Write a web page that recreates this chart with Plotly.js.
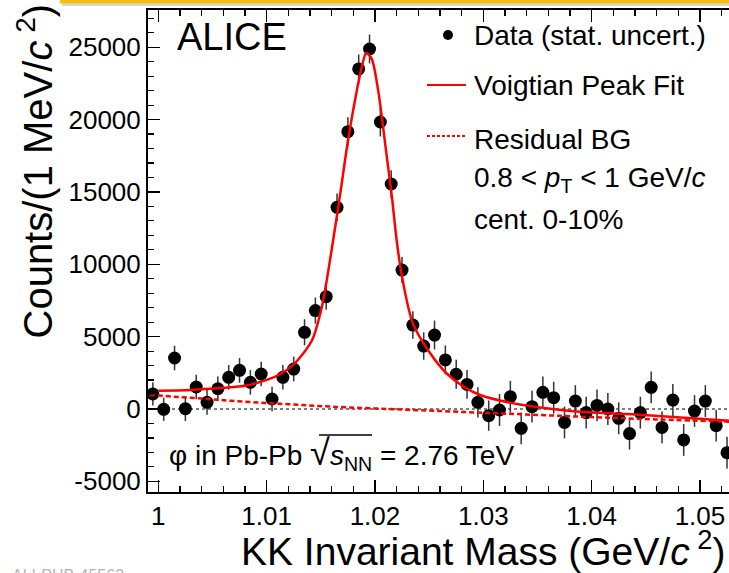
<!DOCTYPE html>
<html>
<head>
<meta charset="utf-8">
<script src="https://cdn.plot.ly/plotly-3.0.1.min.js"></script>
<style>
html,body{margin:0;padding:0;overflow:hidden;background:#fff;width:729px;height:573px;}
#chart{width:745px;height:573px;}
</style>
</head>
<body>
<div id="chart"></div>
<script>
// ---- data ----
const massBins = [0.9995,1.0005,1.0015,1.0025,1.0035,1.0045,1.0055,1.0065,1.0075,1.0085,1.0095,1.0105,1.0115,1.0125,1.0135,1.0145,1.0155,
  1.0165,1.0175,1.0185,1.0195,1.0205,1.0215,1.0225,1.0235,1.0245,1.0255,1.0265,1.0275,1.0285,1.0295,1.0305,1.0315,1.0325,1.0335,1.0345,
  1.0355,1.0365,1.0375,1.0385,1.0395,1.0405,1.0415,1.0425,1.0435,1.0445,1.0455,1.0465,1.0475,1.0485,1.0495,1.0505,1.0515,1.0525];
const counts = [1040,-20,3525,20,1520,460,1400,2190,2670,1840,2420,690,2190,2760,5300,6800,7760,
  13940,19165,23500,24880,19835,15550,9600,5800,4350,5110,3390,2400,1700,460,-460,-70,850,-1335,160,
  1150,780,-930,550,-250,250,0,-645,-1700,-250,1500,-1270,620,-2140,-140,550,-1150,-3020];
const statErr = [800,800,850,850,850,850,850,850,850,850,850,850,850,850,900,900,900,
  950,1000,1000,1000,1000,950,900,950,950,1000,1000,1000,1000,1050,1050,1100,1100,1100,1100,
  1100,1100,1100,1100,1100,1100,1100,1100,1100,1100,1100,1100,1100,1100,1100,1100,1100,1100];

const fitMass = [1.0000,1.0030,1.0060,1.0080,1.0095,1.0111,1.0126,1.0142,1.0151,1.0160,1.0168,1.0175,1.0183,1.0188,1.0192,1.0197,1.0203,1.0210,1.0216,1.0220,1.0225,1.0235,1.0251,1.0266,1.0282,1.0297,1.0328,1.0358,1.0389,1.0448,1.0535];
const fitCounts = [1265,1320,1470,1610,1890,2350,3160,4770,7070,10990,14900,18500,21900,23700,24600,24200,22000,18000,14440,11680,9140,5920,3850,2470,1540,970,390,50,-190,-415,-860];

const bgMass = [0.9992,1.004,1.008,1.012,1.016,1.022,1.028,1.034,1.040,1.046,1.0535];
const bgCounts = [970,720,500,330,160,-20,-200,-380,-560,-720,-900];

const xTickVals = [1,1.01,1.02,1.03,1.04,1.05];
const xTickText = ['1','1.01','1.02','1.03','1.04','1.05'];
const yTickVals = [-5000,0,5000,10000,15000,20000,25000];
const yTickText = ['-5000','0','5000','10000','15000','20000','25000'];

// ---- layout helpers (pixel -> paper) ----
const L = 148, W = 745, T = 10, B = 81, H = 573;
const PW = W - L, PH = H - T - B;
const px = p => (p - L) / PW;
const py = p => (H - B - p) / PH;
const FONT = 'Liberation Sans, Arial, Helvetica, sans-serif';

const traces = [
  {x: massBins, y: counts, type: 'scatter', mode: 'markers',
   marker: {color: 'black', size: 13},
   error_y: {type: 'data', array: statErr, visible: true, color: '#333', thickness: 1.5, width: 0},
   hoverinfo: 'x+y', showlegend: false},
  {x: fitMass, y: fitCounts, type: 'scatter', mode: 'lines',
   line: {color: '#ff0000', width: 2.5, shape: 'spline', smoothing: 0.8}, showlegend: false},
  {x: bgMass, y: bgCounts, type: 'scatter', mode: 'lines',
   line: {color: '#ff0000', width: 2.5, dash: '5px,3px', shape: 'spline'}, showlegend: false}
];

const ann = (text, xp, yp, size, opts) => Object.assign({
  text: text, x: px(xp), y: py(yp), xref: 'paper', yref: 'paper',
  xanchor: 'left', yanchor: 'middle', showarrow: false,
  font: {family: FONT, size: size, color: 'black'}
}, opts || {});

const layout = {
  width: W, height: H,
  margin: {l: L, r: 0, t: T, b: B, pad: 0},
  paper_bgcolor: 'white', plot_bgcolor: 'white',
  showlegend: false,
  xaxis: {
    range: [0.99905, 1.05416], tickmode: 'array', tickvals: xTickVals, ticktext: xTickText,
    ticks: 'inside', ticklen: 12, tickwidth: 1.5, tickcolor: 'black',
    minor: {tickmode: 'linear', tick0: 1, dtick: 0.002, ticks: 'inside', ticklen: 6, tickwidth: 1.2, tickcolor: 'black', showgrid: false},
    showline: true, linecolor: 'black', linewidth: 2, mirror: 'allticks',
    showgrid: false, zeroline: false,
    tickfont: {family: FONT, size: 26, color: 'black'}, ticklabelstandoff: 0
  },
  yaxis: {
    range: [-5736, 27574], tickmode: 'array', tickvals: yTickVals, ticktext: yTickText,
    ticks: 'inside', ticklen: 12, tickwidth: 1.5, tickcolor: 'black',
    minor: {tickmode: 'linear', tick0: 0, dtick: 1000, ticks: 'inside', ticklen: 6, tickwidth: 1.2, tickcolor: 'black', showgrid: false},
    showline: true, linecolor: 'black', linewidth: 2, mirror: 'allticks',
    showgrid: false, zeroline: false,
    tickfont: {family: FONT, size: 26, color: 'black'}
  },
  shapes: [
    // dashed zero line
    {type: 'line', xref: 'paper', yref: 'y', x0: 0, x1: 1, y0: 0, y1: 0,
     line: {color: 'black', width: 1.2, dash: '3px,3px'}, layer: 'below'},
    // legend symbols
    {type: 'circle', xref: 'paper', yref: 'paper', x0: px(443), x1: px(453), y0: py(30), y1: py(40),
     fillcolor: 'black', line: {width: 0}},
    {type: 'line', xref: 'paper', yref: 'paper', x0: px(427), x1: px(466), y0: py(85), y1: py(85),
     line: {color: '#ff0000', width: 2}},
    {type: 'line', xref: 'paper', yref: 'paper', x0: px(427), x1: px(466), y0: py(136), y1: py(136),
     line: {color: '#ff0000', width: 2, dash: '3px,2px'}},
    // overline of the square root
    {type: 'line', xref: 'paper', yref: 'paper', x0: px(319), x1: px(372), y0: py(435), y1: py(435),
     line: {color: 'black', width: 1.5}},
    // banner at top of slide
    {type: 'rect', xref: 'paper', yref: 'paper', x0: px(62), x1: px(760), y0: py(6), y1: py(-10),
     fillcolor: '#d9d9d9', line: {width: 0}, layer: 'above'},
    {type: 'rect', xref: 'paper', yref: 'paper', x0: px(60), x1: px(760), y0: py(3.5), y1: py(-10),
     fillcolor: '#f3bf12', line: {width: 0}, layer: 'above'}
  ],
  annotations: [
    ann('ALICE', 175, 37, 38),
    ann('Data (stat. uncert.)', 472, 35, 28),
    ann('Voigtian Peak Fit', 472, 85, 28),
    ann('Residual BG', 472, 139, 28),
    ann('0.8 &lt; <i>p</i><sub>T</sub> &lt; 1 GeV/<i>c</i>', 472, 180, 28),
    ann('cent. 0-10%', 472, 219, 28),
    ann('φ in Pb-Pb <span style="font-size:36px">√</span><i>s</i><sub>NN</sub> = 2.76 TeV', 167, 453, 28),
    ann('KK Invariant Mass (GeV/<i>c</i><sup> 2</sup>)', 727, 548, 39, {xanchor: 'right'}),
    ann('Counts/(1 MeV/<i>c</i><sup> 2</sup>)', 35, 341, 40, {xanchor: 'center', yanchor: 'bottom', textangle: -90}),
    ann('ALI-PUB-45563', 10, 575, 16, {font: {family: FONT, size: 16, color: '#b5b5b5'}})
  ]
};

Plotly.newPlot('chart', traces, layout, {staticPlot: true, displayModeBar: false});
</script>
</body>
</html>
